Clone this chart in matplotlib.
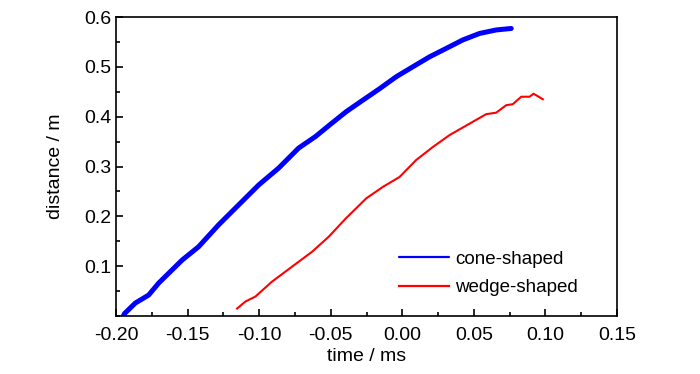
import numpy as np
import matplotlib
matplotlib.use("Agg")
import matplotlib.pyplot as plt
from matplotlib.ticker import MultipleLocator

plt.rcParams['font.family'] = ['Liberation Sans', 'DejaVu Sans']

# cone-shaped (blue)
t_cone = [-0.1949, -0.1940, -0.1865, -0.1772, -0.1702, -0.1539, -0.1423, -0.1283,
          -0.1143, -0.1003, -0.0863, -0.0724, -0.0607, -0.0509, -0.0392, -0.0276,
          -0.0159, -0.0043, 0.0073, 0.0190, 0.0307, 0.0423, 0.0540, 0.0656, 0.0761]
d_cone = [0.000, 0.005, 0.026, 0.042, 0.066, 0.112, 0.139, 0.183,
          0.223, 0.263, 0.297, 0.337, 0.360, 0.383, 0.410, 0.433,
          0.456, 0.480, 0.500, 0.520, 0.537, 0.554, 0.567, 0.574, 0.577]

# wedge-shaped (red)
t_wedge = [-0.1154, -0.1096, -0.1026, -0.0910, -0.0770, -0.0630, -0.0514, -0.0397,
           -0.0252, -0.0136, -0.0019, 0.0097, 0.0213, 0.0330, 0.0470, 0.0586,
           0.0656, 0.0726, 0.0772, 0.0831, 0.0889, 0.0917, 0.0947, 0.0982]
d_wedge = [0.015, 0.029, 0.039, 0.069, 0.099, 0.129, 0.159, 0.195,
           0.236, 0.259, 0.279, 0.313, 0.339, 0.363, 0.386, 0.405,
           0.408, 0.423, 0.425, 0.440, 0.440, 0.446, 0.441, 0.435]

fig = plt.figure(figsize=(7, 3.74), dpi=100)
ax = fig.add_axes([116/700, 1 - 316/374, (617-116)/700, (316-17)/374])

ax.plot(t_cone, d_cone, color='#0000ff', linewidth=3.6, solid_capstyle='round', label='cone-shaped')
ax.plot(t_wedge, d_wedge, color='#ff0000', linewidth=1.5, label='wedge-shaped')

ax.set_xlim(-0.20, 0.15)
ax.set_ylim(0, 0.6)
ax.xaxis.set_minor_locator(MultipleLocator(0.025))
ax.yaxis.set_minor_locator(MultipleLocator(0.05))
ax.set_xticks(np.arange(-0.20, 0.151, 0.05))
ax.set_xticklabels(['-0.20', '-0.15', '-0.10', '-0.05', '0.00', '0.05', '0.10', '0.15'])
ax.set_yticks([0.1, 0.2, 0.3, 0.4, 0.5, 0.6])
ax.set_yticklabels(['0.1', '0.2', '0.3', '0.4', '0.5', '0.6'])

ax.tick_params(which='both', direction='in', top=False, right=False, labelsize=14, width=1.2)
ax.tick_params(which='major', length=5)
ax.tick_params(which='minor', length=3)
ax.tick_params(axis='x', pad=8)
for s in ax.spines.values():
    s.set_linewidth(1.2)

ax.set_xlabel('time / ms', fontsize=14, labelpad=3)
ax.set_ylabel('distance / m', fontsize=14, labelpad=14)

leg = ax.legend(loc='lower right', bbox_to_anchor=(0.955, 0.01), frameon=False, fontsize=13.5,
                handlelength=2.7, handletextpad=0.3, labelspacing=0.6)
for h in leg.get_lines():
    h.set_linewidth(1.6)

fig.savefig('out.png', dpi=100)
